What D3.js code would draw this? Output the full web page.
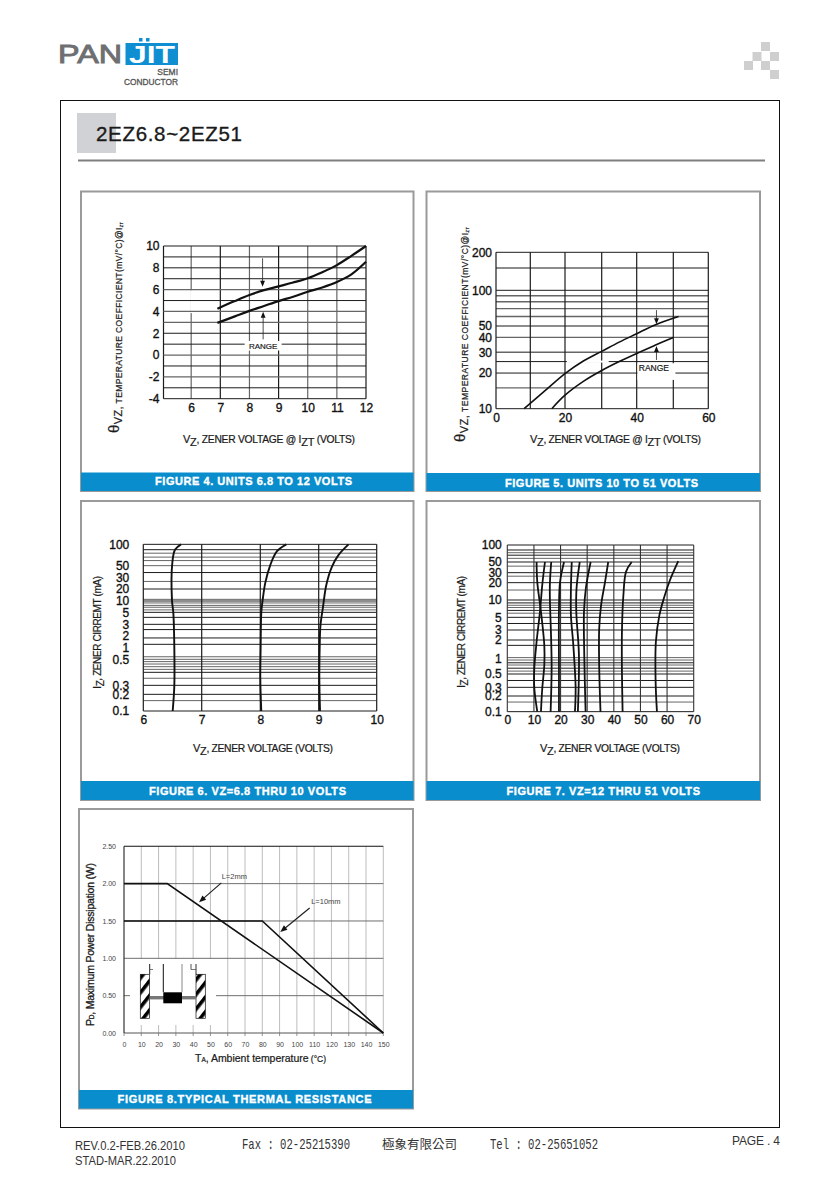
<!DOCTYPE html>
<html><head><meta charset="utf-8">
<script src="https://cdn.jsdelivr.net/npm/d3@7/dist/d3.min.js"></script>
<style>html,body{margin:0;background:#fff}svg{display:block}text{font-family:"Liberation Sans",Arial,sans-serif;fill:#1a1a1a}</style>
</head><body><svg id="page" width="840" height="1188"></svg>
<script>
// ---------- Figure 4 ----------
const f4XTicks=[6,7,8,9,10,11,12];
const f4YTicks=[10,8,6,4,2,0,-2,-4];
const f4GridDark=[10,9,8,7,5,2,1,-1,-3,-4];
const f4GridGray=[6,4,3,0,-2];
const f4VDark=[7,9,12];
const f4VGray=[6,8,10,11];
const f4Upper=[[6.9,4.25],[7.5,4.95],[8,5.5],[8.5,5.95],[9,6.3],[9.5,6.65],[10,7.05],[10.5,7.6],[11,8.25],[11.5,9.1],[12,10]];
const f4Lower=[[6.9,2.95],[7.5,3.55],[8,4.05],[8.5,4.5],[9,4.95],[9.5,5.35],[10,5.8],[10.5,6.2],[11,6.7],[11.5,7.4],[12,8.55]];
// ---------- Figure 5 ----------
const f5XTicks=[0,20,40,60];
const f5VLines=[10,20,30,40,50,60];
const f5YTicks=[10,20,30,40,50,100,200];
const f5GridDark=[200,100,25,20,10];
const f5GridGray=[150,90,80,70,60,50,40,30,15];
const f5Upper=[[8.2,10],[14,14],[20,19.8],[25,25.3],[30,30.5],[35,36.5],[40,43],[45,51],[51.5,60]];
const f5Lower=[[16.2,10],[20,13],[25,17],[30,21],[35,25],[40,29.3],[45,34.3],[50,40]];
// ---------- Figure 6 ----------
const f6XTicks=[6,7,8,9,10];
const f6YTicks=[100,50,30,20,10,5,3,2,1,0.5,0.3,0.2,0.1];
const f6GridDark=[100,84,37,20,10,5.1,4.07,3,2.5,1.78,1.22,0.39,0.3,0.2,0.1];
const f6GridGray=[75,66,59,50,26,11,8.9,7.7,6.9,5.9,0.6,0.52,0.484,0.461,0.437,0.414,0.346,0.154];
const f6Curve1=[[6.646,100],[6.543,84],[6.497,55],[6.491,10.5],[6.514,5],[6.531,1.05],[6.531,0.29],[6.503,0.1]];
const f6Curve2=[[8.446,100],[8.286,80],[8.171,51],[8.086,25],[8.04,10.5],[8.017,5],[8.006,1.05],[8.0,0.34],[8.017,0.1]];
const f6Curve3=[[9.514,100],[9.343,71],[9.229,48],[9.131,23],[9.074,7],[9.029,2.8],[9.017,1.05],[9.011,0.34],[9.023,0.1]];
// ---------- Figure 7 ----------
const f7XTicks=[0,10,20,30,40,50,60,70];
const f7YTicks=[100,50,30,20,10,5,3,2,1,0.5,0.3,0.2,0.1];
const f7GridDark=[100,81.6,66,50,30,20,10,8.9,6.6,5,3.9,3,2,1.64,0.83,0.65,0.5,0.39,0.3,0.2,0.1];
const f7GridGray=[73,58,41,26,14.9,8.1,7.4,5.9,1.04,0.94,0.75,0.57,0.153];
const f7Curves=[
 [[11.0,50],[11.26,20.5],[12.64,6.3],[13.9,1.64],[13.9,0.75],[13.14,0.29],[12.64,0.1]],
 [[14.14,50],[13.14,18.5],[12.27,6.3],[11.0,1.88],[10.14,0.65],[10.14,0.29],[11.26,0.1]],
 [[16.5,50],[16.0,19.5],[16.0,10],[16.4,2.6],[16.65,0.7],[16.27,0.1]],
 [[21.3,50],[19.8,20.5],[19.4,6.3],[19.4,0.7],[19.4,0.1]],
 [[24.2,50],[23.9,16],[23.9,5.4],[24.8,1.64],[25.66,0.29],[25.4,0.1]],
 [[27.2,50],[26.0,16],[25.9,6.3],[26.9,1.15],[26.5,0.1]],
 [[31.3,50],[29.5,16],[28.8,6.3],[28.9,1.15],[29.4,0.1]],
 [[37.9,50],[36.7,20.5],[35.2,8],[34.5,3.1],[34.5,0.75],[35.0,0.1]],
 [[46.7,50],[44.6,31.5],[43.6,12.2],[43.05,2.8],[43.05,0.56],[43.3,0.1]],
 [[64.2,52],[61.1,22.3],[58.8,10.7],[57.1,5.4],[55.8,1.88],[55.7,0.37],[56.2,0.1]]
];
// ---------- Figure 8 ----------
const f8XTicks=d3.range(0,151,10);
const f8YTicks=[0,0.5,1,1.5,2,2.5];
const f8L2=[[0,2],[25,2],[150,0]];
const f8L10=[[0,1.5],[80,1.5],[150,0]];

const svg=d3.select('#page');
const defs=svg.append('defs');
const hatch=defs.append('pattern').attr('id','hatch').attr('patternUnits','userSpaceOnUse').attr('width',9).attr('height',11).attr('patternTransform','rotate(38)');
hatch.append('rect').attr('width',3.6).attr('height',11).attr('fill','#000');

const DARK='#1c1c1c',GRAY='#666';

function panel(x0,y0,x1,bandY0,bandY1,label,lx0,lx1,ly){
  svg.append('rect').attr('x',x0).attr('y',y0).attr('width',x1-x0).attr('height',bandY1-y0).attr('fill','#fff').attr('stroke','#9a9a9a').attr('stroke-width',2);
  svg.append('rect').attr('x',x0).attr('y',bandY0).attr('width',x1-x0).attr('height',bandY1-bandY0).attr('fill','#0a8dcc');
  svg.append('text').attr('x',lx0).attr('y',ly).attr('textLength',lx1-lx0).attr('lengthAdjust','spacing')
    .attr('font-size',11).attr('font-weight','bold').style('fill','#fff').attr('stroke','#fff').attr('stroke-width',0.35).text(label);
}
function hGrid(g,x,y,vals,col,w){
  g.selectAll(null).data(vals).join('line').attr('x1',x.range()[0]).attr('x2',x.range()[x.range().length-1])
    .attr('y1',d=>y(d)).attr('y2',d=>y(d)).attr('stroke',col).attr('stroke-width',w);
}
function vGrid(g,x,y,vals,col,w){
  const r=y.range();
  g.selectAll(null).data(vals).join('line').attr('y1',r[0]).attr('y2',r[r.length-1])
    .attr('x1',d=>x(d)).attr('x2',d=>x(d)).attr('stroke',col).attr('stroke-width',w);
}
function axes(g,x,y,xt,yt,pb,pl,size,fx,fy,col){
  const ab=g.append('g').attr('transform',`translate(0,${d3.max(y.range())})`).call(d3.axisBottom(x).tickValues(xt).tickSize(0).tickPadding(pb).tickFormat(fx||d3.format('d')));
  const al=g.append('g').attr('transform',`translate(${x.range()[0]},0)`).call(d3.axisLeft(y).tickValues(yt).tickSize(0).tickPadding(pl).tickFormat(fy||(d=>String(d))));
  [ab,al].forEach(a=>{a.select('.domain').remove();a.attr('font-family',null).attr('font-size',null);
    a.selectAll('text').attr('font-size',size).style('fill',col||'#111').attr('stroke',col||'#111').attr('stroke-width',size>9?0.35:0);});
}
function curve(g,x,y,data,w,straight){
  const gen=d3.line().x(d=>x(d[0])).y(d=>y(d[1])).curve(straight?d3.curveLinear:d3.curveCatmullRom.alpha(0.5));
  g.append('path').datum(data).attr('d',gen).attr('fill','none').attr('stroke','#111').attr('stroke-width',w);
}
function arrow(g,x,y,a,b,w,head){
  const x1=x(a[0]),y1=y(a[1]),x2=x(b[0]),y2=y(b[1]);
  const ang=Math.atan2(y2-y1,x2-x1),h=head||6,s=h*0.4;
  g.append('line').attr('x1',x1).attr('y1',y1).attr('x2',x2-Math.cos(ang)*h*.8).attr('y2',y2-Math.sin(ang)*h*.8).attr('stroke','#222').attr('stroke-width',w);
  g.append('path').attr('fill','#111').attr('d',`M${x2},${y2}L${x2-Math.cos(ang)*h-Math.sin(ang)*s},${y2-Math.sin(ang)*h+Math.cos(ang)*s}L${x2-Math.cos(ang)*h+Math.sin(ang)*s},${y2-Math.sin(ang)*h-Math.cos(ang)*s}Z`);
}
function xLabel(x0,x1,y,parts,size){
  const t=svg.append('text').attr('x',x0).attr('y',y).attr('textLength',x1-x0).attr('lengthAdjust','spacing').attr('font-size',size).attr('stroke','#1a1a1a').attr('stroke-width',0.22);
  parts.forEach(p=>t.append('tspan').attr('font-size',p.s||size).attr('dy',p.dy||0).text(p.t));
}
function yLabel(x,y0,y1,parts,size,bold){
  const t=svg.append('text').attr('transform',`translate(${x},${y0}) rotate(-90)`).attr('textLength',y0-y1).attr('lengthAdjust','spacing').attr('font-size',size).attr('stroke','#1a1a1a').attr('stroke-width',bold?0.3:0.22);
  parts.forEach(p=>t.append('tspan').attr('font-size',p.s||size).attr('dy',p.dy||0).text(p.t));
}

// Frame, header, footer
svg.append('rect').attr('x',60.5).attr('y',100.5).attr('width',719).attr('height',1027).attr('fill','none').attr('stroke','#111').attr('stroke-width',1);
svg.append('rect').attr('x',77).attr('y',113).attr('width',39).attr('height',40).attr('fill','#d0d2d5');
svg.append('text').attr('x',96).attr('y',141).attr('font-size',20.5).attr('textLength',146).attr('lengthAdjust','spacing').attr('stroke','#1a1a1a').attr('stroke-width',0.35).text('2EZ6.8~2EZ51');
svg.append('line').attr('x1',78).attr('x2',765).attr('y1',160.5).attr('y2',160.5).attr('stroke','#7f7f7f').attr('stroke-width',2);

// Logo
svg.append('text').attr('x',58).attr('y',63).attr('font-size',25).attr('textLength',64).attr('lengthAdjust','spacingAndGlyphs').attr('stroke','#6e6f72').attr('stroke-width',0.9).style('fill','#6e6f72').text('PAN');
svg.append('rect').attr('x',125.5).attr('y',43).attr('width',52.5).attr('height',22).attr('fill','#0f8fd2');
svg.append('text').attr('x',129).attr('y',63).attr('font-size',24).attr('font-weight','bold').attr('textLength',46).attr('lengthAdjust','spacingAndGlyphs').style('fill','#fff').text('JIT');
svg.selectAll(null).data([139,146]).join('rect').attr('x',d=>d).attr('y',38).attr('width',3.5).attr('height',3.5).attr('fill','#0f8fd2');
svg.append('text').attr('x',178).attr('y',75).attr('text-anchor','end').attr('font-size',8.5).attr('stroke','#555').attr('stroke-width',0.3).style('fill','#555').text('SEMI');
svg.append('text').attr('x',178).attr('y',85).attr('text-anchor','end').attr('font-size',8.5).attr('textLength',54).attr('lengthAdjust','spacingAndGlyphs').attr('stroke','#555').attr('stroke-width',0.3).style('fill','#555').text('CONDUCTOR');
// Decorative squares
const decoSquares=[[761,42],[752.5,52],[770,52],[744,61],[761,61],[770,70]];
svg.selectAll(null).data(decoSquares).join('rect').attr('x',d=>d[0]).attr('y',d=>d[1]).attr('width',9).attr('height',9).attr('fill','#cfcfcf');
// Footer
svg.append('text').attr('x',75).attr('y',1150).attr('font-size',12).attr('textLength',110).attr('lengthAdjust','spacingAndGlyphs').style('fill','#333').text('REV.0.2-FEB.26.2010');
svg.append('text').attr('x',75).attr('y',1165).attr('font-size',12).attr('textLength',101).attr('lengthAdjust','spacingAndGlyphs').style('fill','#333').text('STAD-MAR.22.2010');
svg.append('text').attr('x',732).attr('y',1145).attr('font-size',12).attr('textLength',48).attr('lengthAdjust','spacing').style('fill','#333').text('PAGE . 4');
const mono=(x,w,t)=>svg.append('text').attr('x',x).attr('y',1149).attr('font-size',15).attr('textLength',w).attr('lengthAdjust','spacingAndGlyphs').style('font-family','"Liberation Mono",monospace').style('fill','#333').text(t);
mono(242,108,'Fax : 02-25215390');mono(490,108,'Tel : 02-25651052');
svg.append('text').attr('x',382).attr('y',1149).attr('font-size',12.5).style('font-family','"Noto Sans CJK TC"').style('fill','#333').text('極象有限公司');

// ---------- Panels ----------
panel(81,191.5,413.5,472.5,491,'FIGURE 4. UNITS 6.8 TO 12 VOLTS',155,352,484.5);
panel(426.5,191.5,760,473,491,'FIGURE 5. UNITS 10 TO 51 VOLTS',505,698,486.5);
panel(81,501,413.5,781,800,'FIGURE 6. VZ=6.8 THRU 10 VOLTS',149,346,794.5);
panel(426.5,501,760,781,800,'FIGURE 7. VZ=12 THRU 51 VOLTS',506.5,700,795);
panel(79,809,413,1090,1108.5,'FIGURE 8.TYPICAL THERMAL RESISTANCE',117.5,371.5,1103);

// ---------- Fig 4 ----------
{
  const x=d3.scaleLinear().domain([5.05,12]).range([163.5,366]);
  const y=d3.scaleLinear().domain([-4,10]).range([398.7,246]);
  const g=svg.append('g');
  vGrid(g,x,y,f4VGray,GRAY,1.2);vGrid(g,x,y,f4VDark,DARK,1.2);
  vGrid(g,x,y,[5.05],DARK,1.2);
  // break in the printed gridline at 6 V, under the horizontal lines
  g.append('rect').attr('x',x(6)-1).attr('y',y(5.95)).attr('width',2).attr('height',y(3.85)-y(5.95)).attr('fill','#fff');
  hGrid(g,x,y,f4GridGray,GRAY,1.3);hGrid(g,x,y,f4GridDark,DARK,1);
  g.append('rect').attr('x',x(8.47)-18.5).attr('y',y(0.83)-5).attr('width',37).attr('height',9.5).attr('fill','#fff');
  curve(g,x,y,f4Upper,2.2);curve(g,x,y,f4Lower,2.2);
  arrow(g,x,y,[8.45,8.87],[8.45,6.27],0.8);
  arrow(g,x,y,[8.47,1.44],[8.47,3.98],0.8);
  g.append('text').attr('x',x(8.47)).attr('y',y(0.83)+3).attr('text-anchor','middle').attr('font-size',8).attr('stroke','#1a1a1a').attr('stroke-width',0.2).text('RANGE');
  axes(g,x,y,f4XTicks,f4YTicks,5,4,12);
  xLabel(183,355,443,[{t:'V',s:11},{t:'Z',s:11,dy:3},{t:', ZENER VOLTAGE @ I',s:10.3,dy:-3},{t:'ZT',s:11,dy:3},{t:' (VOLTS)',s:10.3,dy:-3}],10.3);
  yLabel(119,433,222,[{t:'θ',s:15},{t:'VZ,',s:11,dy:3},{t:' TEMPERATURE COEFFICIENT',s:8.5},{t:'(mV/°C)@I',s:8.5},{t:'ZT',s:4,dy:1}],8.5);
}
// ---------- Fig 5 ----------
{
  const x=d3.scaleLinear().domain([0,10,20,30,40,50,60]).range([496,530.3,565,601.7,636.7,673.3,708.3]);
  const y=d3.scaleLog().domain([10,100,200]).range([408.7,290.3,252.3]);
  const g=svg.append('g');
  hGrid(g,x,y,f5GridGray,GRAY,1.4);hGrid(g,x,y,f5GridDark,DARK,1);
  vGrid(g,x,y,[0],DARK,1.2);vGrid(g,x,y,f5VLines,DARK,1.2);
  g.append('rect').attr('x',x(20.5)).attr('y',y(25)-1).attr('width',x(32)-x(20.5)).attr('height',2).attr('fill','#fff');
  g.append('rect').attr('x',x(40.2)).attr('y',y(24.2)).attr('width',x(50.6)-x(40.2)).attr('height',y(17.5)-y(24.2)).attr('fill','#fff');
  curve(g,x,y,f5Upper,1.6);curve(g,x,y,f5Lower,1.6);
  arrow(g,x,y,[45.4,68],[45.4,51.6],0.8);
  arrow(g,x,y,[45.4,25.8],[45.4,33.8],0.8);
  g.append('text').attr('x',x(44.7)).attr('y',y(21.9)+3).attr('text-anchor','middle').attr('font-size',8.5).attr('stroke','#1a1a1a').attr('stroke-width',0.2).text('RANGE');
  axes(g,x,y,f5XTicks,f5YTicks,5,4,12);
  xLabel(530,701,443,[{t:'V',s:11},{t:'Z',s:11,dy:3},{t:', ZENER VOLTAGE @ I',s:10.3,dy:-3},{t:'ZT',s:11,dy:3},{t:' (VOLTS)',s:10.3,dy:-3}],10.3);
  yLabel(465,442,227,[{t:'θ',s:15},{t:'VZ,',s:11,dy:3},{t:' TEMPERATURE COEFFICIENT',s:8.5},{t:'(mV/°C)@I',s:8.5},{t:'ZT',s:4,dy:1}],8.5);
}
// ---------- Fig 6 ----------
{
  const x=d3.scaleLinear().domain([6,7,8,9,10]).range([143.3,201.7,260.3,318.7,376.7]);
  const y=d3.scaleLog().domain(f6YTicks).range([133,197,232,267,303,338,373,408,443,480,556,583,633].map(z=>500+z/3));
  const g=svg.append('g');
  hGrid(g,x,y,f6GridGray,GRAY,1);hGrid(g,x,y,f6GridDark,DARK,1);
  vGrid(g,x,y,f6XTicks,DARK,1.2);
  [f6Curve1,f6Curve2,f6Curve3].forEach(c=>curve(g,x,y,c,1.9));
  axes(g,x,y,f6XTicks,f6YTicks,4,14,12);
  xLabel(193,333,752,[{t:'V',s:11},{t:'Z',s:11,dy:3},{t:', ZENER VOLTAGE (VOLTS)',s:10.3,dy:-3}],10.3);
  yLabel(101,689,576,[{t:'I',s:11},{t:'Z',s:10,dy:3},{t:', ZENER CIRREMT (mA)',s:10,dy:-3}],10);
}
// ---------- Fig 7 ----------
{
  const x=d3.scaleLinear().domain([0,70]).range([507.3,693.7]);
  const y=d3.scaleLog().domain(f7YTicks).range([135,186,218,248,300,352,390,420,476,522,562,588,635].map(z=>500+z/3));
  const g=svg.append('g');
  hGrid(g,x,y,f7GridGray,GRAY,1);hGrid(g,x,y,f7GridDark,DARK,1);
  vGrid(g,x,y,f7XTicks,'#333',1.1);
  f7Curves.forEach(c=>curve(g,x,y,c,1.8));
  axes(g,x,y,f7XTicks,f7YTicks,4,5.5,12);
  xLabel(540,680,752,[{t:'V',s:11},{t:'Z',s:11,dy:3},{t:', ZENER VOLTAGE (VOLTS)',s:10.3,dy:-3}],10.3);
  yLabel(465,688,576,[{t:'I',s:11},{t:'Z',s:10,dy:3},{t:', ZENER CIRREMT (mA)',s:10,dy:-3}],10);
}
// ---------- Fig 8 ----------
{
  const x=d3.scaleLinear().domain([0,150]).range([124,383.3]);
  const y=d3.scaleLinear().domain([0,2.5]).range([1033,846.3]);
  const g=svg.append('g');
  vGrid(g,x,y,f8XTicks.filter(d=>d>0),'#b5b5b5',0.9);
  hGrid(g,x,y,[0.5,1,1.5,2],'#6f6f6f',1);
  hGrid(g,x,y,[2.5],'#111',1.1);
  hGrid(g,x,y,[0],'#555',1);
  vGrid(g,x,y,[0],'#222',1.1);
  g.selectAll(null).data(f8XTicks).join('line').attr('x1',d=>x(d)).attr('x2',d=>x(d)).attr('y1',y(0)).attr('y2',y(0)+3).attr('stroke','#777').attr('stroke-width',0.8);
  // Mounting inset
  const inset=g.append('g');
  inset.append('rect').attr('x',130).attr('y',959).attr('width',86).attr('height',66).attr('fill','#fff');
  [[140.3,974.3],[196,974.3]].forEach(p=>{
    inset.append('rect').attr('x',p[0]).attr('y',p[1]).attr('width',9.3).attr('height',44).attr('fill','url(#hatch)').attr('stroke','#111').attr('stroke-width',0.7);
  });
  inset.append('rect').attr('x',149.7).attr('y',996).attr('width',46.3).attr('height',3.4).attr('fill','#777');
  inset.append('rect').attr('x',163.3).attr('y',992.3).attr('width',18.7).attr('height',11).attr('fill','#000');
  [[149.7,964,974.3,'#222'],[163.3,964,992.3,'#111'],[182,964,992.3,'#888'],[196,964,974.3,'#333'],[191,964,969.5,'#555']].forEach(l=>{
    inset.append('line').attr('x1',l[0]).attr('x2',l[0]).attr('y1',l[1]).attr('y2',l[2]).attr('stroke',l[3]).attr('stroke-width',1);
  });
  [[150,153],[191,196]].forEach(s=>inset.append('line').attr('x1',s[0]).attr('x2',s[1]).attr('y1',969.5).attr('y2',969.5).attr('stroke','#555').attr('stroke-width',0.8));
  curve(g,x,y,f8L2,1.6,true);curve(g,x,y,f8L10,1.6,true);
  arrow(g,x,y,[56.3,2.01],[43.4,1.75],1.2,7);
  arrow(g,x,y,[107.4,1.674],[90.4,1.353],1.2,7);
  g.append('text').attr('x',x(56.5)).attr('y',y(2.09)+2.5).attr('font-size',7.5).style('fill','#444').text('L=2mm');
  g.append('text').attr('x',x(108.3)).attr('y',y(1.76)+2.5).attr('font-size',7.5).style('fill','#444').text('L=10mm');
  axes(g,x,y,f8XTicks,f8YTicks,9,8,7,d3.format('d'),d3.format('.2f'),'#444');
  xLabel(195,326,1062,[{t:'T',s:10.5},{t:'A',s:6.5},{t:', Ambient temperature',s:10.5},{t:'  (°C)',s:8.5}],10.5);
  yLabel(94,1026,863,[{t:'P',s:10.5},{t:'D',s:6.5},{t:', Maximum Power Dissipation (W)',s:10.5}],10.5,true);
}
</script></body></html>
